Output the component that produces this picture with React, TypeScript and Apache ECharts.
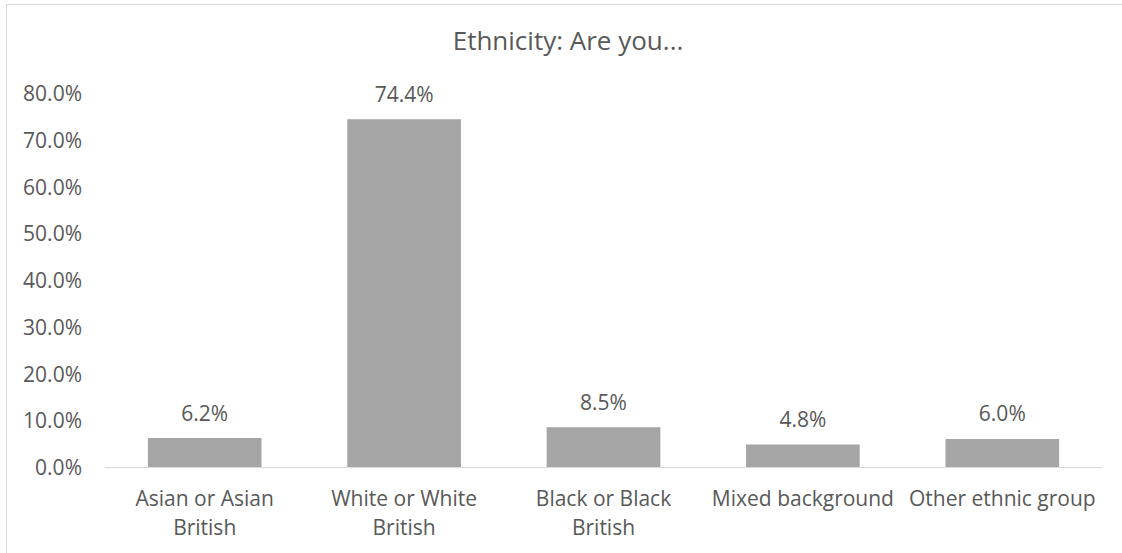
import React, { useEffect, useRef } from "react";
import * as echarts from "echarts";

const title = "Ethnicity: Are you...";
const categories = [
  "Asian or Asian British",
  "White or White British",
  "Black or Black British",
  "Mixed background",
  "Other ethnic group",
];
const values = [6.2, 74.4, 8.5, 4.8, 6.0];
const yTicks = { min: 0, max: 80, interval: 10 };

const TEXT = "#595959";
const FONT = "Open Sans";

function wrap(s: string): string {
  if (s.length <= 20) return s;
  const i = s.lastIndexOf(" ");
  return s.slice(0, i) + "\n" + s.slice(i + 1);
}

export default function App() {
  const ref = useRef<HTMLDivElement>(null);
  useEffect(() => {
    document.body.style.margin = "0";
    const chart = echarts.init(ref.current!, null, { renderer: "svg" });
    chart.setOption({
      animation: false,
      backgroundColor: "#ffffff",
      textStyle: { fontFamily: FONT },
      title: {
        text: title,
        left: 563,
        top: 22,
        textAlign: "center",
        textStyle: { fontFamily: FONT, fontSize: 26, fontWeight: "normal", color: TEXT },
      },
      graphic: [
        {
          type: "rect",
          shape: { x: 6.5, y: 4.5, width: 1300, height: 700 },
          style: { fill: "none", stroke: "#d9d9d9", lineWidth: 1 },
          silent: true,
        },
      ],
      grid: { left: 105, right: 20, top: 93, bottom: 86, containLabel: false },
      xAxis: {
        type: "category",
        data: categories,
        axisLine: { show: true, lineStyle: { color: "#d9d9d9", width: 1 } },
        axisTick: { show: false },
        axisLabel: {
          color: TEXT,
          fontFamily: FONT,
          fontSize: 21,
          lineHeight: 29,
          margin: 16,
          interval: 0,
          formatter: (v: string) => wrap(v),
        },
      },
      yAxis: {
        type: "value",
        min: yTicks.min,
        max: yTicks.max,
        interval: yTicks.interval,
        splitLine: { show: false },
        axisLine: { show: false },
        axisTick: { show: false },
        axisLabel: {
          color: TEXT,
          fontFamily: FONT,
          fontSize: 21,
          margin: 23,
          formatter: (v: number) => v.toFixed(1) + "%",
        },
      },
      series: [
        {
          type: "bar",
          data: values,
          barWidth: "57%",
          itemStyle: { color: "#a5a5a5" },
          label: {
            show: true,
            position: "top",
            distance: 15,
            color: TEXT,
            fontFamily: FONT,
            fontSize: 21,
            formatter: (p: any) => Number(p.value).toFixed(1) + "%",
          },
        },
      ],
    });
    return () => chart.dispose();
  }, []);
  return <div ref={ref} style={{ width: 1122, height: 553 }} />;
}
